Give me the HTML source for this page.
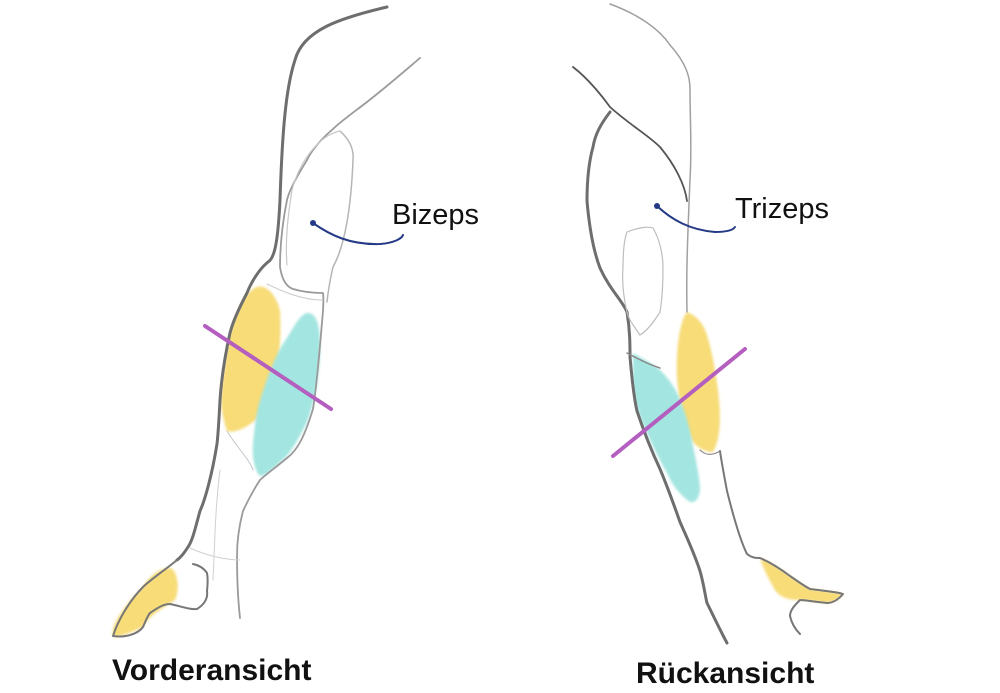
<!DOCTYPE html>
<html><head><style>
html,body{margin:0;padding:0;background:#fff;width:1000px;height:693px;overflow:hidden}
svg{display:block}
</style></head><body>
<svg width="1000" height="693" viewBox="0 0 1000 693" xmlns="http://www.w3.org/2000/svg">
<defs><filter id="b"><feGaussianBlur stdDeviation="1.2"/></filter></defs>
<!-- LEFT ARM -->
<g fill="none" stroke-linecap="round" stroke-linejoin="round">
<path d="M253,289 C262,282 275,290 280,311 C282,340 278,370 273,387 C268,405 260,418 253,422 C243,430 232,433 227,431 C220,410 220,395 223,378 C226,355 229,335 233,324 C239,305 246,294 253,289Z" fill="#f7dc78" stroke="none" filter="url(#b)"/>
<path d="M307,313 C318,312 321,330 320,356 C318,385 313,405 307,422 C298,440 290,455 280,462 C272,470 265,476 260,476 C254,470 252,455 253,444 C255,420 258,405 263,391 C270,370 278,350 287,338 C295,325 300,315 307,313Z" fill="#a3e5e0" stroke="none" filter="url(#b)"/>
<path d="M170,568 C178,570 180,590 175,600 C160,610 150,615 143,627 C130,633 118,638 113,636 C110,625 125,605 143,587 C150,575 160,568 170,568Z" fill="#f7dc78" stroke="none" filter="url(#b)"/>
<path d="M387,7 C340,18 303,30 295,60 C285,90 282,140 280,200 C278,240 275,258 268,262 C258,270 250,285 247,293 C238,310 232,325 230,333 C224,360 221,385 220,400 C219,420 218,435 217,444 C212,475 205,500 200,511 C196,525 193,540 188,547 C183,555 180,558 177,560" stroke="#6e6e6e" stroke-width="3"/>
<path d="M177,560 C165,570 150,580 143,587 C130,600 118,620 113,636 C125,638 138,634 143,627 C146,620 148,615 150,613 C160,606 165,604 170,604 C180,606 190,610 197,609 C205,604 208,598 207,591 C208,582 208,578 207,573 C203,567 198,565 193,564" stroke="#777" stroke-width="2"/>
<path d="M420,58 C400,75 385,88 367,102 C350,115 340,122 333,129 C320,140 312,150 307,160 C298,175 290,188 287,200 C282,225 280,245 280,267 C282,280 287,287 293,289 C303,292 315,293 323,293 C324,300 323,305 323,311 C320,345 317,385 313,409 C305,435 298,450 287,458 C275,468 265,475 260,480 C250,495 246,505 243,511 C238,530 237,545 237,556 C237,580 238,600 240,618" stroke="#9a9a9a" stroke-width="1.8"/>
<path d="M340,131 C350,140 354,150 353,160 C352,185 350,205 347,222 C343,245 338,258 333,267 C330,280 328,292 327,302" stroke="#b5b5b5" stroke-width="1.5"/>
<path d="M340,131 C320,135 300,160 292,190 C288,215 285,240 287,265" stroke="#c8c8c8" stroke-width="1.2"/>
<path d="M267,284 C280,290 300,300 323,300" stroke="#c8c8c8" stroke-width="1"/>
<path d="M227,431 C235,445 250,460 253,470" stroke="#c8c8c8" stroke-width="1"/>
<path d="M220,470 C215,510 215,540 213,580" stroke="#d0d0d0" stroke-width="1"/>
<path d="M190,548 C205,555 225,560 240,560" stroke="#d0d0d0" stroke-width="1"/>
<line x1="205" y1="326" x2="331" y2="409" stroke="#b45ebf" stroke-width="4"/>
<path d="M313,223 C330,235 350,245 380,244 C395,243 402,238 403,235" stroke="#253a87" stroke-width="2"/>
</g>
<circle cx="313" cy="223" r="3" fill="#253a87"/>
<!-- RIGHT ARM -->
<g fill="none" stroke-linecap="round" stroke-linejoin="round">
<path d="M687,312 C695,315 703,322 707,335 C713,355 717,379 719,400 C721,420 720,440 713,452 C705,452 698,448 693,442 C686,430 682,415 680,402 C677,385 676,370 677,357 C678,335 682,318 687,312Z" fill="#f7dc78" stroke="none" filter="url(#b)"/>
<path d="M633,353 C645,360 655,365 660,370 C668,378 673,385 677,393 C685,410 690,428 693,446 C697,465 700,480 700,491 C698,500 695,503 690,502 C680,495 672,485 667,473 C658,458 650,440 643,424 C637,410 633,395 633,379 C633,365 633,358 633,353Z" fill="#a3e5e0" stroke="none" filter="url(#b)"/>
<path d="M760,558 C772,563 782,570 790,576 C800,583 808,588 810,589 C825,591 838,592 843,594 C838,600 832,603 827,603 C815,602 805,600 800,600 C790,600 780,598 775,590 C768,578 763,568 760,558Z" fill="#f7dc78" stroke="none" filter="url(#b)"/>
<path d="M573,67 C590,80 605,100 610,107 C630,125 648,135 660,147 C675,165 685,185 687,201" stroke="#555" stroke-width="1.8"/>
<path d="M610,4 C640,15 660,30 670,45 C685,62 690,75 690,89 C690,120 692,150 690,179 C688,230 686,270 687,312" stroke="#a0a0a0" stroke-width="1.5"/>
<path d="M610,112 C600,125 595,135 593,147 C588,165 587,185 587,201 C590,235 595,255 600,268 C610,290 622,300 627,312 C630,330 630,345 630,357 C632,380 634,398 637,411 C645,435 652,452 660,469 C668,488 674,505 680,522 C688,540 695,555 700,571 C704,585 705,595 707,603 C713,615 720,630 727,643" stroke="#6e6e6e" stroke-width="3"/>
<path d="M720,451 C722,465 725,480 727,491 C733,515 740,540 747,554 C752,558 756,558 760,558 C772,563 782,570 790,576 C800,583 808,588 810,589 C825,591 838,592 843,594 C838,600 832,603 827,603 C815,602 805,600 800,600 C795,605 790,610 790,616 C792,625 796,630 800,634" stroke="#777" stroke-width="2"/>
<path d="M627,232 C637,228 648,226 653,228 C660,240 663,255 663,268 C663,285 662,300 660,312 C652,325 645,332 640,335 C633,325 628,318 627,312 C623,295 622,280 623,268 C623,255 624,240 627,232Z" stroke="#bdbdbd" stroke-width="1.2"/>
<path d="M627,353 C640,360 650,365 660,368" stroke="#888" stroke-width="1.5"/>
<path d="M720,451 C712,456 705,455 700,450" stroke="#888" stroke-width="1.2"/>
<line x1="613" y1="456" x2="745" y2="349" stroke="#b45ebf" stroke-width="4"/>
<path d="M657,206 C672,220 690,230 715,232 C728,232 733,230 735,227" stroke="#253a87" stroke-width="2"/>
</g>
<circle cx="657" cy="206" r="3" fill="#253a87"/>
<g font-family="Liberation Sans, sans-serif">
<text x="392" y="224" font-size="29" fill="#111">Bizeps</text>
<text x="735" y="218" font-size="29" fill="#111">Trizeps</text>
<text x="112" y="680" font-size="30" font-weight="bold" fill="#111">Vorderansicht</text>
<text x="636" y="683" font-size="30" font-weight="bold" fill="#111">Rückansicht</text>
</g>
</svg>
</body></html>
